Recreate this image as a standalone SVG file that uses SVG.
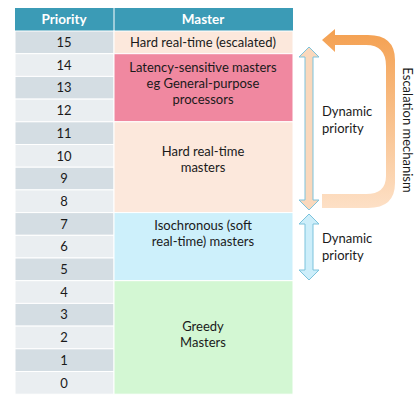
<svg xmlns="http://www.w3.org/2000/svg" width="418" height="400" viewBox="0 0 418 400">
<defs>
<style>
text{font-family:Lato,"Open Sans","DejaVu Sans",sans-serif;fill:#1a1a1a;font-size:13px;text-anchor:middle}
.hd{fill:#fff;font-weight:bold;font-size:13.5px}
.odd{fill:#d4dde3}
.even{fill:#eaeef1}
.lbl{text-anchor:start}
</style>
<linearGradient id="og" x1="0" y1="1" x2="0" y2="0">
<stop offset="0" stop-color="#fde0c6"/>
<stop offset="1" stop-color="#f4a050"/>
</linearGradient>
</defs>
<rect x="0" y="0" width="418" height="400" fill="#fff"/>
<g id="header">
<rect x="15" y="8" width="278" height="23" fill="#3b9bb6"/>
<line x1="114" y1="8" x2="114" y2="31" stroke="#fff" stroke-width="1"/>
<text class="hd" x="64" y="24">Priority</text>
<text class="hd" x="203" y="24">Master</text>
</g>
<g id="priorities" stroke="#fff" stroke-width="1">
<rect class="odd" x="15" y="31" width="99" height="22.7"/>
<rect class="even" x="15" y="53.7" width="99" height="22.7"/>
<rect class="odd" x="15" y="76.4" width="99" height="22.7"/>
<rect class="even" x="15" y="99.1" width="99" height="22.7"/>
<rect class="odd" x="15" y="121.8" width="99" height="22.7"/>
<rect class="even" x="15" y="144.5" width="99" height="22.7"/>
<rect class="odd" x="15" y="167.2" width="99" height="22.7"/>
<rect class="even" x="15" y="189.9" width="99" height="22.7"/>
<rect class="odd" x="15" y="212.6" width="99" height="22.7"/>
<rect class="even" x="15" y="235.3" width="99" height="22.7"/>
<rect class="odd" x="15" y="258" width="99" height="22.7"/>
<rect class="even" x="15" y="280.7" width="99" height="22.7"/>
<rect class="odd" x="15" y="303.4" width="99" height="22.7"/>
<rect class="even" x="15" y="326.1" width="99" height="22.7"/>
<rect class="odd" x="15" y="348.8" width="99" height="22.7"/>
<rect class="even" x="15" y="371.5" width="99" height="22.7"/>
</g>
<g id="priority-labels">
<text x="64" y="47">15</text>
<text x="64" y="69.7">14</text>
<text x="64" y="92.4">13</text>
<text x="64" y="115.1">12</text>
<text x="64" y="137.8">11</text>
<text x="64" y="160.5">10</text>
<text x="64" y="183.2">9</text>
<text x="64" y="205.9">8</text>
<text x="64" y="228.6">7</text>
<text x="64" y="251.3">6</text>
<text x="64" y="274">5</text>
<text x="64" y="296.7">4</text>
<text x="64" y="319.4">3</text>
<text x="64" y="342.1">2</text>
<text x="64" y="364.8">1</text>
<text x="64" y="387.5">0</text>
</g>
<g id="hard-escalated">
<rect x="114" y="31" width="179" height="22.7" fill="#fce8dc" stroke="#fff" stroke-width="1"/>
<text x="203" y="47">Hard real-time (escalated)</text>
</g>
<g id="latency">
<rect x="114" y="53.7" width="179" height="68.1" fill="#f088a0" stroke="#fff" stroke-width="1"/>
<text x="203" y="72">Latency-sensitive masters</text>
<text x="203" y="88">eg General-purpose</text>
<text x="203" y="104">processors</text>
</g>
<g id="hard-rt">
<rect x="114" y="121.8" width="179" height="90.8" fill="#fce8dc" stroke="#fff" stroke-width="1"/>
<text x="203" y="156">Hard real-time</text>
<text x="203" y="172">masters</text>
</g>
<g id="isochronous">
<rect x="114" y="212.6" width="179" height="68.1" fill="#cdf0fb" stroke="#fff" stroke-width="1"/>
<text x="203" y="230">Isochronous (soft</text>
<text x="203" y="246">real-time) masters</text>
</g>
<g id="greedy">
<rect x="114" y="280.7" width="179" height="113.5" fill="#d3f7d3" stroke="#fff" stroke-width="1"/>
<text x="203" y="331">Greedy</text>
<text x="203" y="347">Masters</text>
</g>
<g id="connectors">
<path id="dyn1" d="M309,47 L319,57 L313,57 L313,200 L319,200 L309,210 L299,200 L305,200 L305,57 L299,57 Z" fill="#fad8bc" stroke="#7cc3dc" stroke-width="1"/>
<path id="dyn2" d="M309,214 L319,224 L313,224 L313,270 L319,270 L309,280 L299,270 L305,270 L305,224 L299,224 Z" fill="#cdeefa" stroke="#7cc3dc" stroke-width="1"/>
<path id="escalation" d="M322,40 L335,29 L335,35 L368,35 Q395,35 395,60 L395,183 Q395,208 368,208 L322,208 L322,194 L366,194 Q386,194 386,176 L386,66 Q386,45 366,45 L335,45 L335,52 Z" fill="url(#og)"/>
</g>
<g id="labels">
<text class="lbl" x="322" y="116">Dynamic</text>
<text class="lbl" x="322" y="133">priority</text>
<text class="lbl" x="322" y="243">Dynamic</text>
<text class="lbl" x="322" y="260">priority</text>
<text transform="translate(403,130) rotate(90)">Escalation mechanism</text>
</g>
</svg>
